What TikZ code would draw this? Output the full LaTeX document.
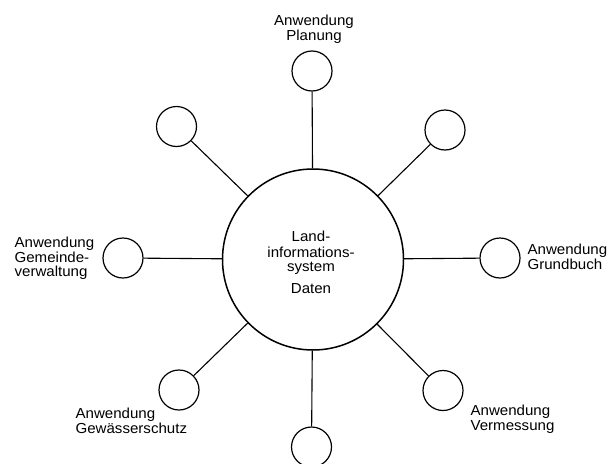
\documentclass[tikz,border=0pt]{standalone}
\usepackage{fontspec}
\setmainfont{Liberation Sans}[FakeStretch=1.04]
\begin{document}
\begin{tikzpicture}[x=1pt,y=-1pt,
  line width=1.2pt,
  app/.style={circle,draw,line width=1.2pt,minimum size=40pt,inner sep=0pt},
  core/.style={circle,draw,line width=1.5pt,minimum size=181pt,inner sep=0pt},
  lbl/.style={inner sep=0pt,font=\fontsize{14.5}{17}\selectfont},
  link/.style={draw,line width=1.1pt}]
\useasboundingbox (0,0) rectangle (615,463);
\node[core] (c) at (313,259.5) {};
\node[app] (n) at (312,71) {};
\node[app] (nw) at (176.5,126.5) {};
\node[app] (ne) at (445,130) {};
\node[app] (w) at (123,258) {};
\node[app] (e) at (500,258) {};
\node[app] (sw) at (179,390) {};
\node[app] (se) at (443,390.5) {};
\node[app] (s) at (311.5,447) {};
\foreach \k in {n,nw,ne,w,e,sw,se,s} \path[link] (c) -- (\k);
% centre text
\node[lbl,anchor=base] (c1) at (311,241.7) {Land-};
\node[lbl,anchor=base] (c2) at (311,257.3) {informations-};
\node[lbl,anchor=base] (c3) at (311,271.7) {system};
\node[lbl,anchor=base] (c4) at (311,293) {Daten};
% labels
\node[lbl,anchor=base] (n1) at (314,25.5) {Anwendung};
\node[lbl,anchor=base] (n2) at (314,40.2) {Planung};
\node[lbl,anchor=base west] (w1) at (14,247.3) {Anwendung};
\node[lbl,anchor=base west] (w2) at (14,262) {Gemeinde-};
\node[lbl,anchor=base west] (w3) at (14,276.7) {verwaltung};
\node[lbl,anchor=base west] (e1) at (527,254.3) {Anwendung};
\node[lbl,anchor=base west] (e2) at (527,269.3) {Grundbuch};
\node[lbl,anchor=base west] (sw1) at (75,418.3) {Anwendung};
\node[lbl,anchor=base west] (sw2) at (75,433.3) {Gewässerschutz};
\node[lbl,anchor=base west] (se1) at (470,415) {Anwendung};
\node[lbl,anchor=base west] (se2) at (470,430) {Vermessung};
\end{tikzpicture}
\end{document}
